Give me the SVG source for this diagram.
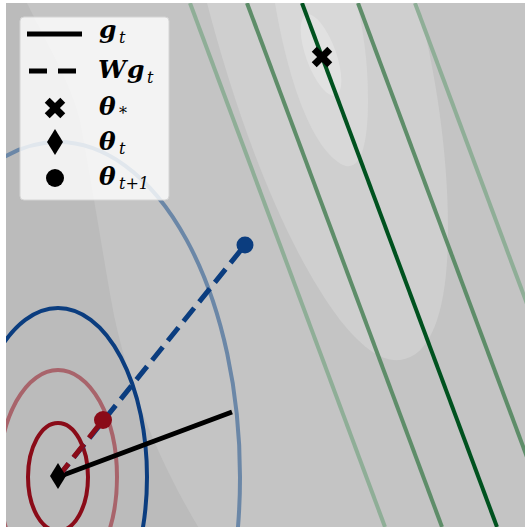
<svg xmlns="http://www.w3.org/2000/svg" width="525" height="529" viewBox="0 0 525 529">
<style>
.m{font-family:"DejaVu Serif","Liberation Serif",serif;font-weight:bold;font-style:italic;font-size:25px;fill:#000}
.s{font-family:"DejaVu Serif","Liberation Serif",serif;font-style:italic;font-weight:normal;font-size:16px;fill:#000}
.gl{stroke-width:4;fill:none}
.ell{fill:none;stroke-width:4}
</style>
<defs>
<clipPath id="plot"><rect x="6" y="3" width="519" height="524"/></clipPath>
<polygon id="xm" points="3.5,-11 3.5,-3.5 11,-3.5 11,3.5 3.5,3.5 3.5,11 -3.5,11 -3.5,3.5 -11,3.5 -11,-3.5 -3.5,-3.5 -3.5,-11" transform="rotate(45)"/>
<polygon id="dm" points="0,-13 8,0 0,13 -8,0"/>
</defs>
<rect width="525" height="529" fill="#ffffff"/>
<g id="background" clip-path="url(#plot)">
<rect x="6" y="3" width="519" height="524" fill="#c4c4c4"/>
<path d="M6,3 L27,3 C45,40 70,80 80,120 C95,200 105,270 115,320 C135,410 170,480 200,530 L6,530 Z" fill="#bbbbbb"/>
<path d="M207,3 C235,110 280,240 340,320 C360,345 380,362 400,360 C435,356 448,300 448,230 C448,150 435,70 418,3 Z" fill="#cfcfcf"/>
<path d="M275,3 C288,80 312,150 343,165 C362,173 368,140 368,100 C368,60 363,30 357,3 Z" fill="#d8d8d8"/>
<ellipse cx="321" cy="55" rx="15" ry="43" transform="rotate(-20 321 55)" fill="#e1e1e1"/>
</g>
<g id="connectors" clip-path="url(#plot)">
<line class="gl" x1="190" y1="3" x2="385" y2="527" stroke="#8fae97"/>
<line class="gl" x1="247" y1="3" x2="442" y2="527" stroke="#5e8d69"/>
<line class="gl" x1="358" y1="3" x2="553" y2="527" stroke="#5e8d69"/>
<line class="gl" x1="415" y1="3" x2="610" y2="527" stroke="#8fae97"/>
<line class="gl" x1="302" y1="3" x2="497" y2="527" stroke="#00521f"/>
<ellipse class="ell" cx="58" cy="477" rx="182" ry="335" stroke="#6b87a7"/>
<ellipse class="ell" cx="58" cy="477" rx="89" ry="169" stroke="#0b3d7f"/>
<ellipse class="ell" cx="58" cy="477" rx="59" ry="107" stroke="#a8646b"/>
<ellipse class="ell" cx="58" cy="477" rx="30" ry="54" stroke="#8a0b18"/>
<line x1="58" y1="477" x2="232" y2="412" stroke="#000" stroke-width="5"/>
<line x1="58" y1="477" x2="245" y2="245" stroke="#0b3d7f" stroke-width="5" stroke-dasharray="17 8"/>
<line x1="58" y1="477" x2="103" y2="420" stroke="#8a0b18" stroke-width="5" stroke-dasharray="17 8"/>
</g>
<g id="theta_next_blue"><circle cx="245" cy="245" r="8.5" fill="#0b3d7f"/></g>
<g id="theta_next_red"><circle cx="103" cy="420" r="9" fill="#8a0b18"/></g>
<g id="theta_t"><use href="#dm" x="58" y="476" fill="#000"/></g>
<g id="theta_star"><use href="#xm" x="322" y="57" fill="#000"/></g>
<g id="legend">
<rect x="20" y="17" width="149" height="183" rx="4" fill="#ffffff" fill-opacity="0.8" stroke="#d4d4d4" stroke-width="1"/>
<line x1="27" y1="34" x2="82" y2="34" stroke="#000" stroke-width="5"/>
<line x1="29" y1="71" x2="77" y2="71" stroke="#000" stroke-width="5" stroke-dasharray="18 11"/>
<use href="#xm" x="55" y="108" fill="#000"/>
<use href="#dm" x="55" y="142" fill="#000"/>
<circle cx="55" cy="178" r="9" fill="#000"/>
<text class="m" x="99" y="38">g</text><text class="s" x="119" y="43">t</text>
<text class="m" x="98" y="78">W</text><text class="m" x="127" y="78">g</text><text class="s" x="147" y="83">t</text>
<text class="m" x="99" y="115">θ</text><text class="s" x="119" y="119">*</text>
<text class="m" x="99" y="150">θ</text><text class="s" x="119" y="154">t</text>
<text class="m" x="99" y="185">θ</text><text class="s" x="119" y="189">t+1</text>
</g>
</svg>
